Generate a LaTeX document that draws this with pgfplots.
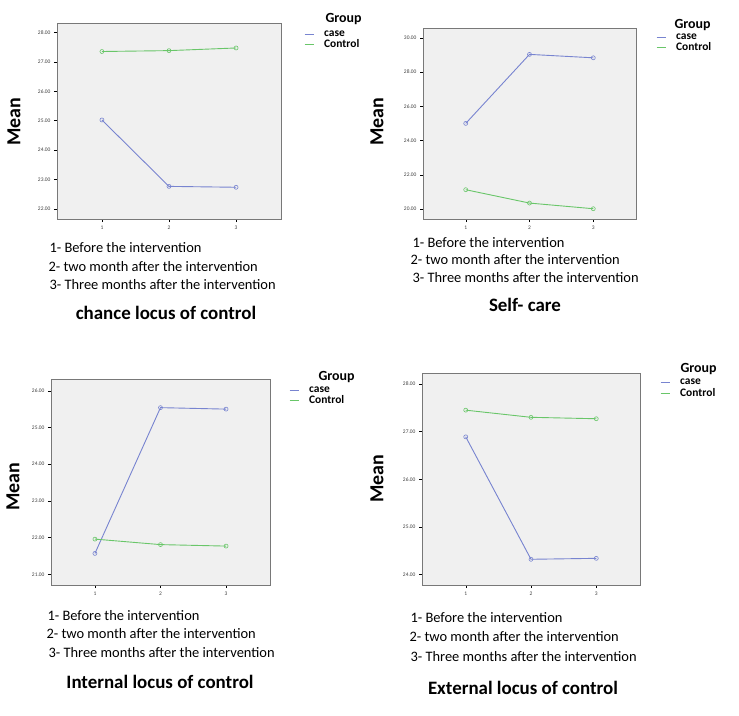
\documentclass[border=0pt]{standalone}
\usepackage{pgfplots}
\pgfplotsset{compat=1.18}
\usepackage{fontspec}
\setmainfont{Carlito}
\definecolor{casecol}{RGB}{120,132,208}
\definecolor{ctrlcol}{RGB}{105,198,105}
\definecolor{bgcol}{RGB}{240,240,240}
\definecolor{boxcol}{RGB}{120,120,120}
\pgfplotsset{
  spss/.style={
    scale only axis,
    anchor=north west,
    axis background/.style={fill=bgcol},
    axis line style={boxcol, line width=0.9bp},
    xmin=0.33, xmax=3.67,
    xtick={1,2,3},
    tick align=outside,
    tick pos=left,
    major tick length=3bp,
    tick style={black, line width=0.4bp},
    ticklabel style={font=\fontsize{5.5}{6.5}\selectfont, text=black!75},
    /pgf/number format/assume math mode=true,
    yticklabel={\pgfmathprintnumber[fixed,fixed zerofill,precision=2]{\tick}},
    xticklabel={\pgfmathprintnumber[fixed,precision=0]{\tick}},
    legend style={draw=none, fill=none, inner sep=0pt,
      font=\fontsize{11.5}{13}\selectfont\bfseries, row sep=0pt,
      column sep=9bp, nodes={inner sep=1bp}},
    legend cell align=left,
    legend image code/.code={\draw[#1, line width=0.9bp] (0bp,0bp) -- (9bp,0bp);},
  },
  caseline/.style={casecol, line width=0.9bp, mark=o, mark size=2bp, mark options={solid, line width=0.6bp}},
  ctrlline/.style={ctrlcol, line width=0.9bp, mark=o, mark size=2bp, mark options={solid, line width=0.6bp}},
}
\newcommand{\meanlabel}[2]{\node[rotate=90, font=\fontsize{20}{24}\selectfont\bfseries] at (#1bp,-#2bp) {Mean};}
\newcommand{\notes}[6]{%
  \node[anchor=west, font=\fontsize{14.5}{17}\selectfont] at (#1bp,-#2bp) {1- Before the intervention};
  \node[anchor=west, font=\fontsize{14.5}{17}\selectfont] at (#3bp,-#4bp) {2- two month after the intervention};
  \node[anchor=west, font=\fontsize{14.5}{17}\selectfont] at (#5bp,-#6bp) {3- Three months after the intervention};}
\begin{document}
\begin{tikzpicture}
\path[use as bounding box] (0,0) rectangle (739bp,-716bp);

% Panel 1: chance locus of control
\begin{axis}[spss, at={(57bp,-23bp)}, width=224bp, height=196bp,
  ymin=21.65, ymax=28.32, ytick={22,23,24,25,26,27,28},
  legend style={at={(axis description cs:1.103,0.968)}, anchor=north west}]
\addplot[caseline] coordinates {(1,25.02) (2,22.76) (3,22.73)};
\addlegendentry{case}
\addplot[ctrlline] coordinates {(1,27.35) (2,27.38) (3,27.47)};
\addlegendentry{Control}
\end{axis}
\node[anchor=west, font=\fontsize{14}{16}\selectfont\bfseries] at (322bp,-19bp) {Group};
\meanlabel{14}{122}
\notes{46}{248}{45}{267}{46}{285}
\node[font=\fontsize{19}{22}\selectfont\bfseries] at (166bp,-313bp) {chance locus of control};

% Panel 2: Self-care
\begin{axis}[spss, at={(423bp,-28bp)}, width=213bp, height=191bp,
  ymin=19.42, ymax=30.57, ytick={20,22,24,26,28,30},
  legend style={at={(axis description cs:1.094,0.978)}, anchor=north west}]
\addplot[caseline] coordinates {(1,25.0) (2,29.03) (3,28.83)};
\addlegendentry{case}
\addplot[ctrlline] coordinates {(1,21.13) (2,20.35) (3,20.02)};
\addlegendentry{Control}
\end{axis}
\node[anchor=west, font=\fontsize{14}{16}\selectfont\bfseries] at (671bp,-25bp) {Group};
\meanlabel{377}{122}
\notes{409}{243}{407}{260}{409}{278}
\node[font=\fontsize{19}{22}\selectfont\bfseries] at (525bp,-305bp) {Self- care};

% Panel 3: Internal locus of control
\begin{axis}[spss, at={(51bp,-379bp)}, width=219bp, height=206bp,
  ymin=20.71, ymax=26.32, ytick={21,22,23,24,25,26},
  legend style={at={(axis description cs:1.087,0.970)}, anchor=north west}]
\addplot[caseline] coordinates {(1,21.57) (2,25.54) (3,25.50)};
\addlegendentry{case}
\addplot[ctrlline] coordinates {(1,21.96) (2,21.81) (3,21.77)};
\addlegendentry{Control}
\end{axis}
\node[anchor=west, font=\fontsize{14}{16}\selectfont\bfseries] at (315bp,-377bp) {Group};
\meanlabel{13}{487}
\notes{44}{616}{43}{634}{45}{653}
\node[font=\fontsize{19}{22}\selectfont\bfseries] at (160bp,-682bp) {Internal locus of control};

% Panel 4: External locus of control
\begin{axis}[spss, at={(422bp,-373bp)}, width=218bp, height=212bp,
  ymin=23.78, ymax=28.23, ytick={24,25,26,27,28},
  legend style={at={(axis description cs:1.092,0.976)}, anchor=north west}]
\addplot[caseline] coordinates {(1,26.89) (2,24.32) (3,24.34)};
\addlegendentry{case}
\addplot[ctrlline] coordinates {(1,27.45) (2,27.30) (3,27.27)};
\addlegendentry{Control}
\end{axis}
\node[anchor=west, font=\fontsize{14}{16}\selectfont\bfseries] at (677bp,-369bp) {Group};
\meanlabel{377}{479}
\notes{407}{618}{406}{637}{407}{657}
\node[font=\fontsize{19}{22}\selectfont\bfseries] at (523bp,-688bp) {External locus of control};
\end{tikzpicture}
\end{document}
